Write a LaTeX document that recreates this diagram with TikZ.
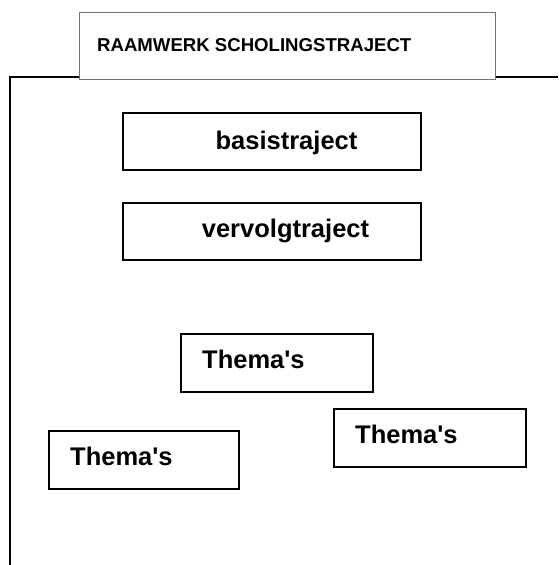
\documentclass[tikz,border=0pt]{standalone}
\usepackage{fontspec}
\newfontfamily\arialb{Liberation Sans}[Ligatures=TeXOff,BoldFont={* Bold}]
\begin{document}
\begin{tikzpicture}[x=1pt,y=-1pt,
  box/.style={draw=black,line width=1.8pt,rectangle,inner sep=0pt,anchor=north west},
  titlebox/.style={draw=black!55,line width=1.2pt,rectangle,inner sep=0pt,anchor=north west},
  frameline/.style={draw=black,line width=1.8pt},
  lbl/.style={inner sep=0pt,font=\arialb\bfseries\fontsize{25.5}{30}\selectfont},
  ttl/.style={inner sep=0pt,font=\arialb\bfseries\fontsize{18.6}{22}\selectfont}]
\useasboundingbox (0,0) rectangle (558,565);
% title
\node[titlebox,minimum width=416pt,minimum height=67pt] (title) at (79,12) {};
\node[ttl,anchor=base west] (titletext) at (97,51) {RAAMWERK SCHOLINGSTRAJECT};
% frame
\coordinate (fl) at (10,77);
\coordinate (fb) at (10,565);
\coordinate (fr) at (558,77);
\draw[frameline] (title.west |- fl) -- (fl) -- (fb);
\draw[frameline] (title.east |- fr) -- (fr);
% upper boxes
\node[box,minimum width=298pt,minimum height=57pt] (basis) at (122,112) {};
\node[lbl,anchor=base] (basistext) at (286.5,149.5) {basistraject};
\node[box,minimum width=298pt,minimum height=57pt] (vervolg) at (122,202) {};
\node[lbl,anchor=base] (vervolgtext) at (285.5,237.5) {vervolgtraject};
% thema boxes
\node[box,minimum width=192pt,minimum height=58pt] (t1) at (180,333) {};
\node[lbl,anchor=base west] (t1text) at (202,368.5) {Thema's};
\node[box,minimum width=190pt,minimum height=58pt] (t2) at (48,430) {};
\node[lbl,anchor=base west] (t2text) at (70,465.5) {Thema's};
\node[box,minimum width=192pt,minimum height=58pt] (t3) at (333,408) {};
\node[lbl,anchor=base west] (t3text) at (355,443.5) {Thema's};
\end{tikzpicture}
\end{document}
